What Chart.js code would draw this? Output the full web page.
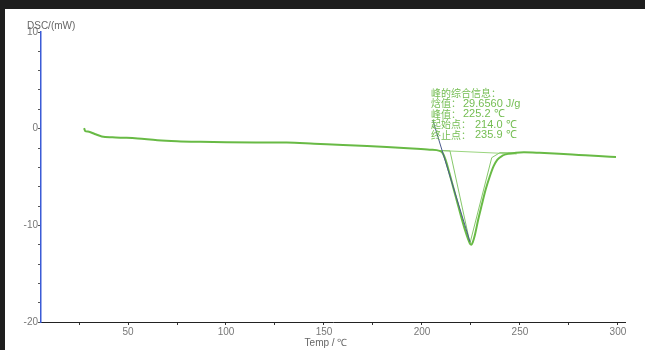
<!DOCTYPE html>
<html>
<head>
<meta charset="utf-8">
<script src="https://cdn.jsdelivr.net/npm/chart.js@4.4.0/dist/chart.umd.min.js"></script>
<style>
  html, body { margin: 0; padding: 0; background: #1e1e1e; }
  canvas { display: block; }
</style>
</head>
<body>
<canvas id="myChart" width="645" height="350"></canvas>
<script>
// DSC curve, temperature (C) vs heat flow (mW)
const temps = [27.6, 28.2, 29.6, 33, 36.6, 42, 49.3, 55, 65, 75, 87, 100, 115, 131, 145, 159.7, 172, 182, 195, 204, 209,
  210.5, 212, 214, 216, 218, 220, 222, 223.5, 224.5, 225.2, 226, 227, 228.7, 230.5, 232.5, 234.5, 236.5, 238.5, 241, 244,
  248, 252, 260, 270, 280, 290, 299];
const dsc = [0.05, -0.25, -0.3, -0.55, -0.8, -0.9, -0.95, -1.02, -1.2, -1.3, -1.36, -1.4, -1.42, -1.42, -1.55, -1.7, -1.8, -1.9, -2.05, -2.17, -2.3,
  -2.5, -3.2, -4.6, -6.1, -7.6, -9.1, -10.5, -11.4, -11.9, -12.0, -11.7, -11.0, -9.4, -7.9, -6.3, -5.0, -3.9, -3.2, -2.8, -2.6,
  -2.5, -2.45, -2.5, -2.6, -2.72, -2.84, -2.92];

// peak construction lines
const tangentX = [205.5, 224.5];
const tangentY = [0.9, -11.7];
const baseX = [210, 248.3];
const baseY = [-2.27, -2.62];
const peakX = [210, 214.3, 224.5, 235.6, 239.8, 248.3];
const peakY = [-2.27, -2.3, -11.85, -3.0, -2.48, -2.5];

const xTicks = [25, 50, 75, 100, 125, 150, 175, 200, 225, 250, 275, 300];
const yTicks = [-20, -18, -16, -14, -12, -10, -8, -6, -4, -2, 0, 2, 4, 6, 8, 10];

const infoLines = [
  ['峰的综合信息：', ''],
  ['焓值：', '29.6560 J/g'],
  ['峰值：', '225.2 ℃'],
  ['起始点：', '214.0 ℃'],
  ['终止点：', '235.9 ℃']
];

function pts(xs, ys) { return xs.map((x, i) => ({ x: x, y: ys[i] })); }

const frame = {
  id: 'frame',
  beforeDraw(chart) {
    const c = chart.ctx;
    c.save();
    c.fillStyle = '#1e1e1e';
    c.fillRect(0, 0, chart.width, chart.height);
    c.fillStyle = '#ffffff';
    c.fillRect(5, 9, chart.width - 5, chart.height - 9);
    c.restore();
  },
  afterDraw(chart) {
    const c = chart.ctx;
    c.save();
    c.fillStyle = '#666';
    c.font = '10px "Liberation Sans", Arial, sans-serif';
    c.textAlign = 'left';
    c.textBaseline = 'middle';
    c.fillText('DSC/(mW)', 27, 26);
    c.textAlign = 'center';
    c.fillText('Temp / ℃', 326, 343);

    c.fillStyle = '#74bd52';
    c.textAlign = 'left';
    infoLines.forEach((l, i) => {
      const y = 93 + i * 10.5;
      c.font = '10px "Noto Sans CJK SC", sans-serif';
      c.fillText(l[0], 431, y);
      if (l[1]) {
        const end = 431 + c.measureText(l[0]).width;
        c.font = '11px "Liberation Sans", Arial, sans-serif';
        c.fillText(l[1], Math.max(end + 2, l[0].length > 3 ? 475 : 457), y);
      }
    });
    c.restore();
  }
};

const ctx = document.getElementById('myChart').getContext('2d');
const myChart = new Chart(ctx, {
  type: 'line',
  data: {
    datasets: [
      {
        data: pts(tangentX, tangentY),
        borderColor: '#4a5a8c',
        borderWidth: 1,
        pointRadius: 0
      },
      {
        data: pts(temps, dsc),
        borderColor: '#68ba45',
        borderWidth: 2,
        pointRadius: 0,
        cubicInterpolationMode: 'monotone'
      },
      {
        data: pts(peakX, peakY),
        borderColor: '#86c86a',
        borderWidth: 1,
        pointRadius: 0
      },
      {
        data: pts(baseX, baseY),
        borderColor: '#9bd57f',
        borderWidth: 1,
        pointRadius: 0
      }
    ]
  },
  options: {
    responsive: false,
    animation: false,
    layout: { padding: { left: 0, top: 32, right: 20, bottom: 0 } },
    plugins: { legend: { display: false }, tooltip: { enabled: false } },
    scales: {
      x: {
        type: 'linear',
        min: 5.6,
        max: 303.6,
        afterFit(scale) { scale.height = 28; },
        afterBuildTicks(scale) { scale.ticks = xTicks.map(v => ({ value: v })); },
        border: { color: '#222', width: 1 },
        grid: { drawOnChartArea: false, tickLength: 3, color: '#333' },
        ticks: {
          autoSkip: false,
          maxRotation: 0,
          padding: 1,
          color: '#777',
          font: { size: 10, family: '"Liberation Sans", Arial, sans-serif' },
          callback: v => (v % 50 === 0 ? String(v) : '')
        }
      },
      y: {
        type: 'linear',
        min: -20,
        max: 10,
        afterFit(scale) { scale.width = 41; },
        afterBuildTicks(scale) { scale.ticks = yTicks.map(v => ({ value: v })); },
        border: { color: '#3b5bd6', width: 1.5 },
        grid: { drawOnChartArea: false, tickLength: 3, color: '#555' },
        ticks: {
          autoSkip: false,
          padding: 0,
          color: '#777',
          font: { size: 10, family: '"Liberation Sans", Arial, sans-serif' },
          callback: v => (v % 10 === 0 ? String(v) : '')
        }
      }
    }
  },
  plugins: [frame]
});
</script>
</body>
</html>
